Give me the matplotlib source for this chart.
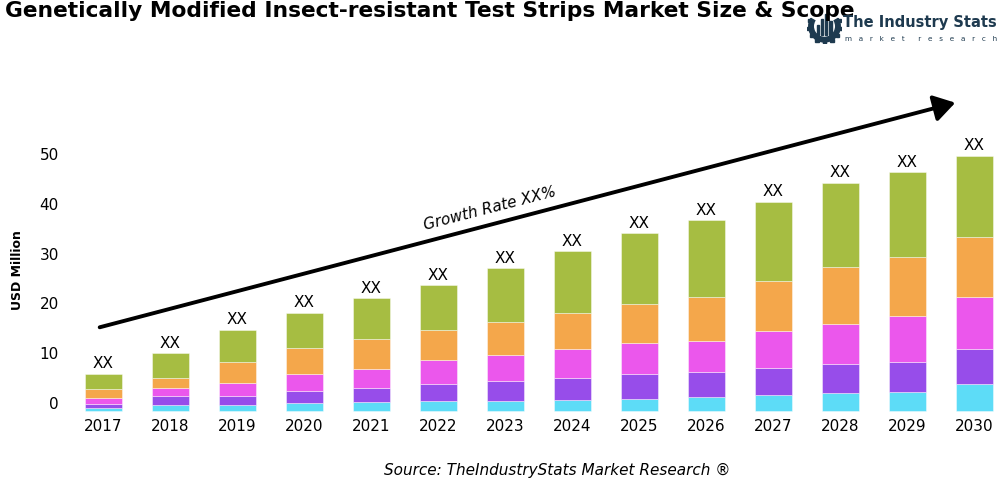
import matplotlib
matplotlib.use("Agg")
import matplotlib.pyplot as plt
import numpy as np
from matplotlib.patches import Wedge, Rectangle, FancyArrowPatch

years = ["2017", "2018", "2019", "2020", "2021", "2022", "2023",
         "2024", "2025", "2026", "2027", "2028", "2029", "2030"]
seg_cyan = [0.66, 1.2, 1.2, 1.6, 1.8, 1.95, 1.95, 2.14, 2.4, 2.75, 3.2, 3.7, 3.9, 5.4]
seg_purple = [0.74, 1.87, 1.87, 2.4, 2.8, 3.45, 4.15, 4.46, 5.1, 5.05, 5.5, 5.7, 6.0, 7.05]
seg_magenta = [1.27, 1.55, 2.63, 3.5, 3.8, 4.8, 5.1, 5.85, 6.1, 6.3, 7.4, 8.1, 9.2, 10.45]
seg_orange = [1.81, 1.95, 4.14, 5.15, 6.0, 6.1, 6.6, 7.25, 7.8, 8.7, 10.1, 11.4, 11.8, 12.0]
seg_green = [3.01, 5.03, 6.46, 7.05, 8.2, 9.0, 10.9, 12.4, 14.3, 15.5, 15.8, 16.9, 17.0, 16.4]
bar_labels = ["XX"] * len(years)
yticks = [0, 10, 20, 30, 40, 50]

series = [seg_cyan, seg_purple, seg_magenta, seg_orange, seg_green]
colors = ["#5DDCF7", "#974DEA", "#EB57EC", "#F4A74B", "#A6BD42"]
NAVY = "#1E3A4F"

fig = plt.figure(figsize=(10, 5), dpi=100)
ax = fig.add_axes([0.07, 0.173, 0.9246, 0.5727])

x = np.arange(len(years))
bottom = np.zeros(len(years))
for vals, c in zip(series, colors):
    ax.bar(x, vals, width=0.54, bottom=bottom, color=c,
           edgecolor=(1, 1, 1, 0.5), linewidth=0.6)
    bottom = bottom + np.array(vals)

for xi, tot, lab in zip(x, bottom, bar_labels):
    ax.text(xi, tot + 0.5, lab, ha="center", va="bottom", fontsize=11,
            color="black")

ax.set_xlim(-0.5, 13.3)
ax.set_ylim(-0.5, 57)
ax.set_xticks(x)
ax.set_xticklabels(years, fontsize=11)
# tick labels sit slightly above the bar baseline, as in the reference
label_shift = 1.6
ax.set_yticks([v + label_shift for v in yticks])
ax.set_yticklabels([str(v) for v in yticks], fontsize=11)
ax.tick_params(axis="both", length=0)
ax.tick_params(axis="x", pad=4)
ax.tick_params(axis="y", pad=8)
for s in ax.spines.values():
    s.set_visible(False)
ax.set_ylabel("USD Million", fontsize=9, fontweight="bold")
ax.yaxis.set_label_coords(-0.0497, 0.5)

# growth arrow
fig.patches.append(FancyArrowPatch(
    (97 / 1000, 1 - 328 / 500), (958 / 1000, 1 - 102 / 500),
    transform=fig.transFigure, arrowstyle="-|>,head_length=8,head_width=5",
    mutation_scale=1.6, linewidth=2.8, color="black"))
fig.text(0.490, 1 - 209 / 500, "Growth Rate XX%", rotation=14.5,
         ha="center", va="center", fontsize=11, style="italic")

# title
fig.text(0.005, 0.998, "Genetically Modified Insect-resistant Test Strips Market Size & Scope",
         ha="left", va="top", fontsize=15.7, fontweight="bold",
         family=["Liberation Sans Narrow", "DejaVu Sans"])

# logo
fig.text(0.843, 1 - 22 / 500, "The Industry Stats", ha="left", va="center",
         fontsize=10.5, fontweight="bold", color=NAVY,
         family=["Liberation Sans Narrow", "DejaVu Sans"])
fig.text(0.845, 1 - 39 / 500, "m   a   r   k   e   t      r   e   s   e   a   r   c   h",
         ha="left", va="center", fontsize=5.2, color=NAVY)
lax = fig.add_axes([0.807, 0.91, 0.035, 0.075])
lax.set_xlim(-1, 1)
lax.set_ylim(-1, 1)
lax.set_aspect("equal")
lax.axis("off")
lax.add_patch(Wedge((0, 0), 0.9, 150, 390, width=0.26, color=NAVY))
for ang in np.linspace(160, 380, 9):
    r = np.deg2rad(ang)
    lax.add_patch(Rectangle((0.92 * np.cos(r) - 0.09, 0.92 * np.sin(r) - 0.09), 0.18, 0.18,
                            color=NAVY))
for i, h in enumerate([0.6, 0.9, 1.2, 0.8]):
    lax.add_patch(Rectangle((-0.45 + i * 0.24, -0.5), 0.14, h, color=NAVY))

# source
fig.text(0.557, 1 - 470 / 500, "Source: TheIndustryStats Market Research \u00ae",
         ha="center", va="center", fontsize=11, style="italic")

fig.savefig("out.png", dpi=100)
